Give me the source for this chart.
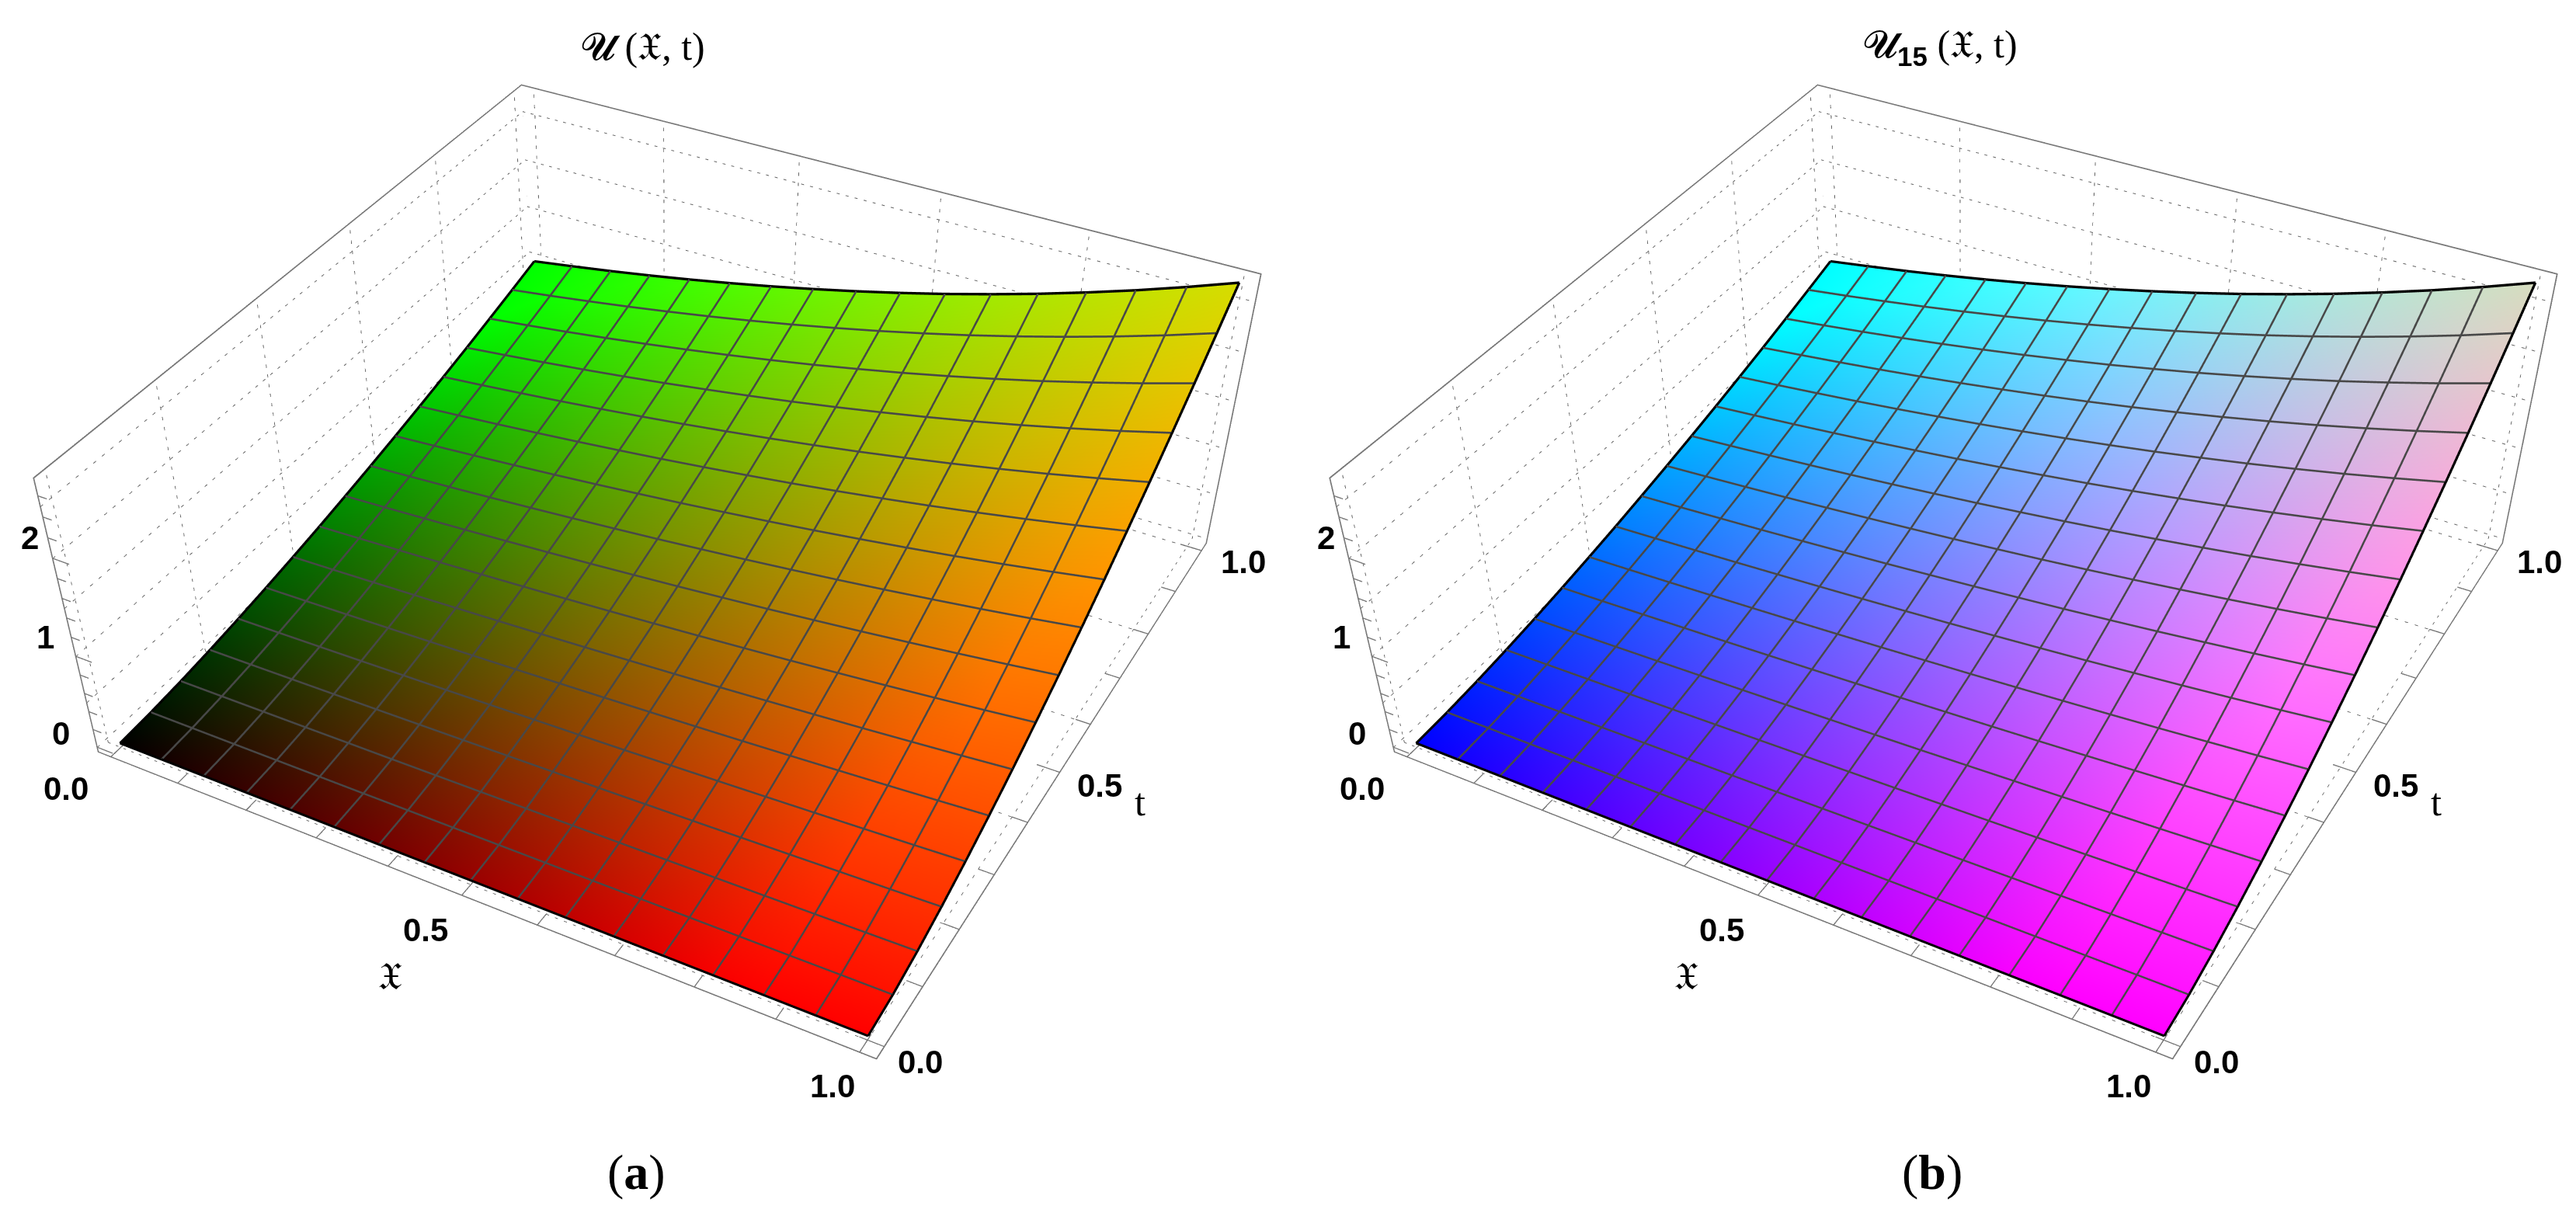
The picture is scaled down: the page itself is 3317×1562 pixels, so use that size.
import numpy as np, plotly.graph_objects as go
x_g=[k/16 for k in range(17)]
t_g=[k/16 for k in range(17)]
U_table=[
[0]*17,
[.016,.017,.018,.019,.020,.021,.023,.024,.026,.027,.029,.031,.033,.035,.037,.040,.042],
[.044,.047,.050,.053,.057,.060,.064,.068,.073,.078,.083,.088,.094,.100,.106,.113,.120],
[.081,.086,.092,.098,.104,.111,.118,.126,.134,.142,.152,.161,.172,.183,.195,.207,.221],
[.125,.133,.142,.151,.161,.171,.182,.194,.206,.219,.234,.249,.265,.282,.300,.319,.340],
[.175,.186,.198,.211,.224,.239,.254,.271,.288,.307,.326,.347,.370,.394,.419,.446,.475],
[.230,.244,.260,.277,.295,.314,.334,.356,.379,.403,.429,.457,.486,.517,.551,.586,.624],
[.289,.308,.328,.349,.372,.396,.421,.448,.477,.508,.541,.575,.613,.652,.694,.739,.787],
[.354,.376,.401,.426,.454,.483,.514,.548,.583,.621,.660,.703,.748,.797,.848,.903,.961],
[.422,.449,.478,.509,.542,.577,.614,.653,.696,.740,.788,.839,.893,.951,1.012,1.077,1.147],
[.494,.526,.560,.596,.634,.675,.719,.765,.815,.867,.923,.983,1.046,1.113,1.185,1.262,1.343],
[.570,.607,.646,.688,.732,.779,.829,.883,.940,1.000,1.065,1.134,1.207,1.285,1.368,1.456,1.550],
[.650,.691,.736,.783,.834,.888,.945,1.006,1.071,1.140,1.213,1.292,1.375,1.464,1.558,1.659,1.766],
[.732,.780,.830,.883,.940,1.001,1.066,1.134,1.207,1.285,1.368,1.456,1.550,1.650,1.757,1.870,1.991],
[.819,.871,.927,.987,1.051,1.119,1.191,1.268,1.349,1.437,1.529,1.628,1.733,1.844,1.964,2.090,2.225],
[.908,.966,1.029,1.095,1.166,1.241,1.321,1.406,1.497,1.593,1.696,1.805,1.922,2.046,2.178,2.318,2.468],
[1.000,1.065,1.133,1.206,1.284,1.367,1.455,1.549,1.649,1.755,1.868,1.989,2.117,2.254,2.399,2.554,2.718]]
tick_labels=[("2",30,684),("1",50,813),("0",70,936),("0.0",77,1007),("0.5",540,1189),("1.0",1064,1390),("0.0",1177,1359),("0.5",1408,1004),("1.0",1593,715)]
grid_xt=[0,.2,.4,.6,.8,1]
grid_z=[0,.5,1,1.5,2,2.5]

W=1648;PW=3317;H=2500;DX=1669
Z=np.array(U_table);x_g=np.array(x_g);t_g=np.array(t_g)
lo=np.array([-0.02,-0.02,-0.054]);hi=np.array([1.02,1.02,2.772])
q=np.array([1.0675,-1.9902,1.6186,0.1083,-0.2807,-0.4693,-0.0029,0.0213,0.9963,0.3816])
eye=q[:3];asp=np.array([1,q[8],q[9]]);f=(H/2)/np.tan(np.pi/8)
def M(v): return asp*((np.asarray(v,float)-lo)/(hi-lo)-.5)
def Mi(m): return (m/asp+.5)*(hi-lo)+lo
def screen(v):
    c=q[3:6];up=np.array([q[6],q[7],1.0])
    F=c-eye;F=F/np.linalg.norm(F);Rr=np.cross(F,up);Rr=Rr/np.linalg.norm(Rr);U=np.cross(Rr,F)
    d=M(v)-eye
    return np.array([f*(d@Rr)/(d@F),f*(d@U)/(d@F)])
def ribbon(segs,wpx,color,lift=0.0,scene='scene'):
    P=[];I=[];J=[];K=[]
    for a,b in segs:
        ma,mb=M(a),M(b);d=mb-ma;v=eye-(ma+mb)/2;dist=np.linalg.norm(v)
        n=np.cross(d,v);n/=np.linalg.norm(n);h=wpx*dist/f/2;lv=v/dist*lift
        s=len(P)
        P+= [Mi(ma+n*h+lv),Mi(ma-n*h+lv),Mi(mb-n*h+lv),Mi(mb+n*h+lv)]
        I+=[s,s];J+=[s+1,s+2];K+=[s+2,s+3]
    P=np.array(P)
    return go.Mesh3d(x=P[:,0],y=P[:,1],z=P[:,2],i=I,j=J,k=K,color=color,flatshading=True,hoverinfo='skip',scene=scene,
      lighting=dict(ambient=1,diffuse=0,specular=0,roughness=1,fresnel=0),showscale=False)
def dashes(a,b,on=4.0,period=12.0):
    a=np.array(a,float);b=np.array(b,float);n=int(np.linalg.norm(screen(b)-screen(a))/period)
    return [(a+(b-a)*k/n,a+(b-a)*(k+on/period)/n) for k in range(n)]
xl,xh,yl,yh,zl,zh=lo[0],hi[0],lo[1],hi[1],lo[2],hi[2]
grid=[]
for v in grid_xt: grid+=dashes((xl,v,zl),(xl,v,zh))+dashes((xl,v,zl),(xh,v,zl))
for v in grid_z: grid+=dashes((xl,yl,v),(xl,yh,v))+dashes((xl,yh,v),(xh,yh,v))
for v in grid_xt: grid+=dashes((v,yh,zl),(v,yh,zh))+dashes((v,yl,zl),(v,yh,zl))
boxs=[((xl,yl,zl),(xl,yl,zh)),((xl,yl,zh),(xl,yh,zh)),((xl,yh,zh),(xh,yh,zh)),((xh,yh,zh),(xh,yh,zl)),((xh,yh,zl),(xh,yl,zl)),((xh,yl,zl),(xl,yl,zl)),((xl,yh,zh),(xl,yh,zl)),((xl,yl,zl),(xl,yh,zl)),((xl,yh,zl),(xh,yh,zl))]
ticks=[]
for k in range(11):
    v=k/10;ln=.03 if k%5==0 else .02
    ticks.append(((v,yl,zl),(v,yl+ln,zl)));ticks.append(((xh,v,zl),(xh-ln,v,zl)))
for k in range(14):
    v=k*.2;ln=.024 if k%5==0 else .013
    ticks.append(((xl,yl,v),(xl+ln,yl,v)))
inner=[];edge=[]
for j in range(17):
    for i in range(16):
        s=((x_g[i],t_g[j],Z[j,i]),(x_g[i+1],t_g[j],Z[j,i+1]))
        (edge if j in(0,16) else inner).append(s)
        s=((x_g[j],t_g[i],Z[i,j]),(x_g[j],t_g[i+1],Z[i+1,j]))
        (edge if j in(0,16) else inner).append(s)
X,Y=np.meshgrid(x_g,t_g)
I=[];J=[];K=[]
for a in range(16):
    for b in range(16):
        p=a*17+b;I+=[p,p];J+=[p+1,p+18];K+=[p+18,p+17]
def colors(b):
    out=[]
    for xx,tt in zip(X.ravel(),Y.ravel()):
        cr=min(1,xx*(1.2-.2*tt-.16*(xx*tt)**2))
        cg=min(1,tt*(1.15-.28*np.sqrt(xx*tt)))
        cb=min(1,b*(1.2-.45*xx*tt))
        out.append('rgb(%d,%d,%d)'%(255*cr,255*cg,255*cb))
    return out
fig=go.Figure()
for sc,b in (('scene',0),('scene2',1)):
    fig.add_trace(go.Mesh3d(x=X.ravel(),y=Y.ravel(),z=Z.ravel(),i=I,j=J,k=K,vertexcolor=colors(b),scene=sc,hoverinfo='skip',
      lighting=dict(ambient=1,diffuse=0,specular=0,roughness=1,fresnel=0),flatshading=False))
    fig.add_trace(ribbon(boxs,3,'#787878',scene=sc))
    fig.add_trace(ribbon(ticks,2.6,'#787878',scene=sc))
    fig.add_trace(ribbon(grid,1.8,'#686868',scene=sc))
    fig.add_trace(ribbon(inner,2.4,'#484848',lift=.002,scene=sc))
    fig.add_trace(ribbon(edge,3,'#000000',lift=.002,scene=sc))
def sc_layout(d):
    ax=lambda a,b:dict(range=[a,b],visible=False)
    return dict(dragmode='orbit',domain=dict(x=d,y=[0,1]),aspectmode='manual',aspectratio=dict(x=1,y=q[8],z=q[9]),
      xaxis=ax(xl,xh),yaxis=ax(yl,yh),zaxis=ax(zl,zh),bgcolor='rgba(0,0,0,0)',
      camera=dict(eye=dict(x=q[0],y=q[1],z=q[2]),center=dict(x=q[3],y=q[4],z=q[5]),up=dict(x=q[6],y=q[7],z=1),projection=dict(type='perspective')))
ann=[]
def T(s,px,py,size,fam='Liberation Sans'):
    ann.append(dict(x=px/PW,y=1-py/H,xref='paper',yref='paper',text=s,showarrow=False,xanchor='center',yanchor='middle',font=dict(size=size,family=fam,color='black')))
for dx in (0,DX):
    for s,a,b in tick_labels: T('<b>%s</b>'%s,a+dx,b,42)
    T('𝔛',494+dx,1249,50,'Liberation Serif');T('t',1460+dx,1025,50,'Liberation Serif')
T('𝓤 (𝔛, t)',820,52,50,'Liberation Serif')
T('𝓤<sub><b><span style="font-family:Liberation Sans">15</span></b></sub> (𝔛, t)',2490,52,50,'Liberation Serif')
T('(<b>a</b>)',811,1501,64,'Liberation Serif');T('(<b>b</b>)',2480,1501,64,'Liberation Serif')
fig.update_layout(width=PW,height=H,margin=dict(l=0,r=0,t=0,b=0),showlegend=False,paper_bgcolor='white',
  scene=sc_layout([0,W/PW]),scene2=sc_layout([DX/PW,(DX+W)/PW]),annotations=ann)
fig.write_html("out.html",post_script="document.body.style.overflow='hidden';document.documentElement.style.overflow='hidden';")
